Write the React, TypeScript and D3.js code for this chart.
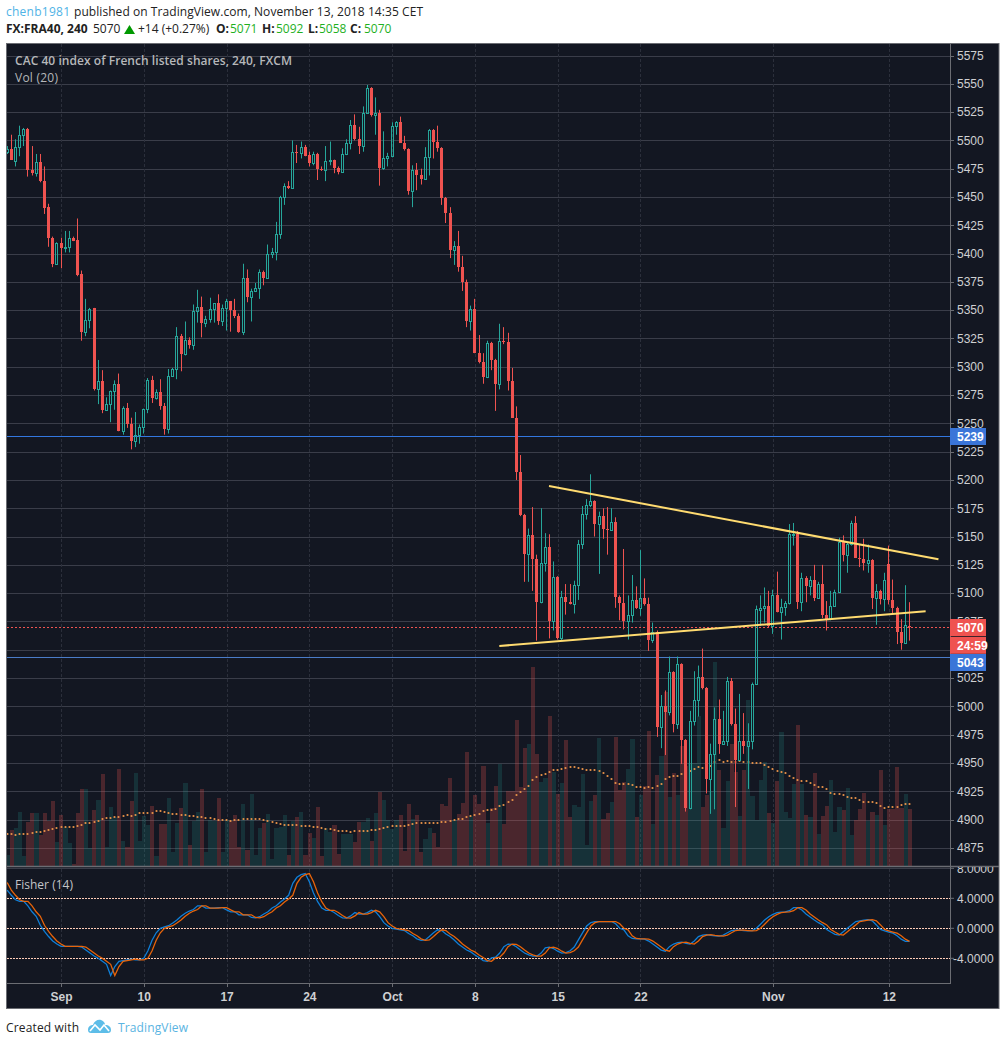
import * as d3 from "d3";

// bar rows: open, high, low, close (FX:FRA40, 240 minutes)
const candles: [number, number, number, number][] = [
  [5490,5495,5488,5492],[5492,5505,5483,5483],[5482,5501,5477,5494],[5494,5513,5486,5505],[5505,5511,5495,5510],
  [5510,5511,5468,5474],[5474,5495,5469,5471],[5471,5488,5468,5481],[5481,5488,5463,5464],[5464,5477,5435,5440],
  [5441,5444,5406,5414],[5414,5415,5388,5391],[5391,5410,5390,5409],[5409,5414,5387,5405],[5405,5420,5401,5406],
  [5406,5420,5401,5414],[5414,5415,5411,5411],[5412,5431,5380,5381],[5382,5385,5323,5331],[5331,5360,5327,5341],
  [5341,5352,5334,5351],[5352,5352,5279,5280],[5280,5306,5267,5287],[5287,5297,5259,5262],[5262,5273,5261,5267],
  [5267,5279,5251,5279],[5279,5288,5262,5285],[5285,5294,5243,5243],[5243,5265,5240,5264],[5264,5268,5246,5249],
  [5249,5255,5227,5234],[5234,5260,5229,5240],[5240,5249,5232,5247],[5247,5263,5241,5263],[5263,5290,5259,5288],
  [5288,5292,5268,5272],[5272,5280,5271,5278],[5278,5289,5262,5265],[5265,5268,5240,5245],[5245,5298,5241,5292],
  [5292,5299,5291,5298],[5298,5335,5289,5327],[5327,5329,5296,5311],[5311,5340,5310,5324],[5324,5326,5316,5319],
  [5319,5355,5315,5349],[5349,5368,5339,5353],[5353,5362,5326,5339],[5339,5345,5335,5342],[5342,5361,5339,5351],
  [5351,5356,5339,5356],[5356,5364,5337,5340],[5340,5355,5336,5352],[5352,5360,5332,5358],[5358,5358,5331,5350],
  [5350,5360,5343,5345],[5345,5347,5330,5331],[5331,5391,5328,5378],[5378,5386,5357,5362],[5362,5369,5340,5367],
  [5367,5374,5366,5370],[5370,5386,5360,5384],[5384,5385,5372,5378],[5378,5408,5378,5400],[5400,5405,5396,5401],
  [5401,5428,5394,5417],[5417,5451,5413,5450],[5450,5462,5443,5460],[5460,5464,5457,5458],[5458,5500,5458,5490],
  [5490,5496,5480,5489],[5489,5499,5484,5494],[5494,5496,5486,5486],[5487,5490,5477,5480],[5480,5490,5478,5488],
  [5488,5489,5465,5475],[5475,5477,5473,5474],[5474,5495,5464,5482],[5482,5499,5478,5483],[5483,5483,5471,5476],
  [5476,5477,5470,5472],[5472,5493,5472,5488],[5488,5501,5487,5498],[5498,5518,5492,5514],[5514,5523,5500,5501],
  [5501,5512,5488,5495],[5495,5530,5490,5524],[5524,5549,5524,5546],[5546,5547,5521,5522],[5522,5538,5505,5524],
  [5524,5527,5460,5476],[5476,5508,5474,5484],[5484,5489,5477,5486],[5486,5516,5485,5513],[5513,5517,5505,5516],
  [5516,5521,5498,5498],[5498,5504,5491,5492],[5492,5493,5452,5455],[5455,5478,5441,5474],[5474,5480,5456,5469],
  [5469,5475,5461,5466],[5466,5494,5466,5485],[5485,5510,5469,5509],[5509,5510,5484,5499],[5499,5513,5490,5493],
  [5493,5494,5443,5449],[5449,5450,5427,5436],[5436,5441,5396,5403],[5403,5411,5390,5407],[5407,5420,5384,5388],
  [5388,5398,5367,5375],[5375,5377,5335,5340],[5340,5354,5332,5351],[5351,5360,5312,5312],[5312,5328,5303,5304],
  [5304,5312,5285,5291],[5291,5323,5290,5321],[5321,5322,5297,5306],[5306,5307,5261,5285],[5285,5338,5280,5323],
  [5323,5335,5320,5322],[5322,5330,5279,5287],[5287,5299,5255,5255],[5255,5265,5200,5207],[5207,5222,5168,5169],
  [5169,5170,5110,5135],[5135,5157,5110,5151],[5151,5176,5102,5130],[5130,5134,5058,5092],[5092,5175,5091,5127],
  [5127,5153,5119,5141],[5141,5152,5060,5075],[5075,5128,5067,5114],[5114,5115,5059,5060],[5060,5102,5058,5097],
  [5097,5108,5081,5092],[5092,5108,5090,5090],[5090,5111,5082,5107],[5107,5147,5094,5143],[5143,5177,5139,5170],
  [5170,5183,5165,5178],[5178,5205,5176,5181],[5181,5182,5150,5161],[5161,5172,5117,5168],[5168,5175,5148,5157],
  [5157,5176,5134,5156],[5156,5175,5155,5163],[5163,5167,5087,5097],[5097,5098,5076,5091],[5091,5139,5068,5075],
  [5075,5098,5059,5081],[5081,5116,5074,5094],[5094,5106,5086,5087],[5087,5138,5080,5096],[5096,5113,5089,5090],
  [5090,5096,5049,5059],[5059,5074,5056,5066],[5066,5067,4973,4982],[4982,5010,4963,5000],[5000,5014,4957,4995],
  [4995,5044,4992,5030],[5030,5031,4977,4984],[4984,5044,4980,5037],[5037,5038,4949,4970],[4970,4971,4907,4910],
  [4910,4996,4909,4987],[4987,5031,4983,5006],[5006,5036,4991,5026],[5026,5051,5015,5016],[5016,5017,4923,4936],
  [4936,4967,4905,4958],[4958,4999,4909,4989],[4989,5006,4958,4967],[4967,4996,4966,4969],[4969,5026,4965,5022],
  [5022,5025,4983,4984],[4984,4998,4911,4953],[4953,5011,4952,4969],[4969,4994,4958,4965],[4965,4985,4927,4969],
  [4969,5021,4962,5020],[5020,5089,5019,5086],[5085,5098,5071,5087],[5087,5105,5074,5089],[5089,5102,5070,5071],
  [5071,5103,5064,5098],[5098,5119,5083,5083],[5083,5095,5059,5088],[5088,5093,5080,5091],[5091,5161,5090,5152],
  [5151,5162,5142,5152],[5152,5155,5086,5092],[5092,5118,5084,5113],[5113,5115,5092,5106],[5106,5115,5098,5112],
  [5112,5125,5093,5096],[5096,5110,5095,5108],[5108,5125,5078,5081],[5081,5093,5067,5077],[5077,5102,5076,5089],
  [5089,5103,5088,5101],[5101,5149,5100,5145],[5145,5151,5128,5134],[5134,5145,5118,5143],[5143,5164,5142,5162],
  [5162,5168,5131,5131],[5131,5143,5123,5130],[5130,5148,5120,5127],[5127,5143,5118,5129],[5129,5130,5086,5096],
  [5096,5108,5072,5102],[5102,5103,5090,5095],[5095,5118,5084,5112],[5126,5142,5090,5094],[5094,5112,5082,5087],
  [5087,5088,5055,5066],[5066,5077,5050,5056],[5056,5107,5055,5072],[5071,5092,5058,5070],
];

const volumes = [
  11,36,38,54,10,44,53,53,31,53,45,65,24,51,39,23,2,53,77,77,
  18,56,66,92,19,59,49,97,25,19,65,93,25,50,41,60,10,42,42,68,
  14,43,58,83,21,45,54,77,14,46,45,68,14,46,45,51,19,62,16,72,
  11,38,43,52,7,38,39,51,11,45,49,54,11,33,28,59,10,38,34,41,
  12,32,32,32,24,44,44,48,25,53,74,66,46,37,46,51,15,62,47,51,
  14,27,38,33,19,62,60,88,46,52,63,114,50,71,62,100,43,58,80,102,
  42,75,75,146,79,118,122,199,112,84,88,150,94,72,83,126,49,61,59,92,
  21,65,71,128,47,53,64,129,76,84,97,127,49,71,80,135,42,91,110,174,
  69,93,71,120,100,103,103,150,59,71,75,204,96,38,85,122,94,50,96,166,
  70,46,86,104,53,43,85,134,54,48,82,141,82,51,49,93,32,50,60,86,
  34,59,56,78,31,46,57,73,45,54,51,96,41,57,57,99,58,72,57,
];

const volumeMa = [
  32,32,31,32,32,32,33,34,34,35,36,37,38,39,39,39,39,40,41,43,
  43,44,45,47,48,48,49,49,50,51,50,51,53,53,53,53,55,55,54,53,
  52,52,51,51,50,50,49,49,48,48,47,46,46,46,45,46,46,47,47,47,
  47,47,46,45,44,43,42,41,41,41,41,40,40,40,39,39,38,37,37,36,
  35,35,35,34,35,35,35,35,36,36,37,38,39,40,40,40,40,41,42,43,
  43,43,43,43,43,44,44,45,46,47,47,49,50,51,52,55,56,56,57,60,
  61,64,66,71,74,77,80,86,89,91,92,94,96,96,97,98,99,99,98,97,
  96,96,96,95,93,90,87,83,82,82,82,81,79,79,78,79,78,80,82,87,
  89,90,90,92,93,95,97,99,98,99,100,104,106,104,105,104,104,105,104,104,
  103,103,103,101,99,97,95,94,93,90,88,86,85,85,83,81,79,79,77,73,
  72,72,71,69,68,68,66,64,64,64,63,60,58,59,59,59,61,62,62,
];

const fisher = [
  5.1,4.4,3.8,3.6,3.6,3.0,2.2,1.6,0.4,-0.4,-1.1,-1.7,-2.1,-2.4,-2.4,-2.4,-2.4,-2.4,-2.5,-2.9,
  -3.3,-3.7,-4.0,-4.4,-4.8,-6.3,-5.1,-4.4,-4.3,-4.2,-4.1,-4.2,-4.2,-4.0,-3.0,-1.6,-0.6,0,0.2,0.35,
  0.7,1.1,1.6,2.0,2.3,2.5,3.0,3.0,2.7,2.7,2.7,2.75,2.75,2.45,2.2,2.2,1.8,1.8,1.8,1.45,
  1.4,1.55,1.9,2.2,2.7,3.0,3.5,3.9,4.4,6.0,6.8,7.15,7.3,6.2,4.7,3.55,2.7,2.4,2.4,2.1,
  1.7,1.4,1.35,1.65,2.1,1.9,1.9,2.1,2.4,2.2,1.55,0.75,0.3,0,-0.1,-0.2,-0.3,-0.7,-1.0,-1.4,
  -1.6,-1.55,-1.1,-0.6,-0.2,-0.3,-0.75,-1.1,-1.55,-2.1,-2.5,-2.9,-3.15,-3.55,-3.9,-4.3,-4.4,-3.95,-3.85,-3.3,
  -2.45,-2.1,-2.15,-2.45,-2.9,-3.3,-3.55,-3.7,-3.7,-3.3,-2.6,-2.5,-2.7,-3.05,-3.3,-3.25,-3.0,-2.5,-1.55,-0.6,
  0.3,0.75,0.9,0.9,0.9,0.9,0.9,0.6,0,-0.2,-1.0,-1.35,-1.4,-1.4,-1.45,-1.7,-2.1,-2.5,-2.9,-3.05,
  -2.45,-2.1,-1.9,-1.85,-2.0,-2.1,-1.7,-1.1,-0.9,-0.85,-0.95,-1.0,-1.05,-0.9,-0.6,-0.3,-0.25,-0.25,-0.3,-0.35,
  -0.3,0,0.55,1.1,1.55,1.85,2.1,2.15,2.2,2.35,2.75,2.75,2.45,1.9,1.5,1.1,0.75,0.45,-0.15,-0.5,
  -0.8,-0.9,-0.45,0,0.45,0.9,1.0,1.1,1.15,1.0,0.45,-0.15,-0.35,-0.5,-0.65,-1.0,-1.45,-1.75,-1.75,
];

const fisherTrigger = [
  6.1,5.1,4.4,3.8,3.6,3.6,3.0,2.2,1.6,0.4,-0.4,-1.1,-1.7,-2.1,-2.4,-2.4,-2.4,-2.4,-2.4,-2.5,
  -2.9,-3.3,-3.7,-4.0,-4.4,-4.8,-6.3,-5.1,-4.4,-4.3,-4.2,-4.1,-4.2,-4.2,-4.0,-3.0,-1.6,-0.6,0,0.2,
  0.35,0.7,1.1,1.6,2.0,2.3,2.5,3.0,3.0,2.7,2.7,2.7,2.75,2.75,2.45,2.2,2.2,1.8,1.8,1.8,
  1.45,1.4,1.55,1.9,2.2,2.7,3.0,3.5,3.9,4.4,6.0,6.8,7.15,7.3,6.2,4.7,3.55,2.7,2.4,2.4,
  2.1,1.7,1.4,1.35,1.65,2.1,1.9,1.9,2.1,2.4,2.2,1.55,0.75,0.3,0,-0.1,-0.2,-0.3,-0.7,-1.0,
  -1.4,-1.6,-1.55,-1.1,-0.6,-0.2,-0.3,-0.75,-1.1,-1.55,-2.1,-2.5,-2.9,-3.15,-3.55,-3.9,-4.3,-4.4,-3.95,-3.85,
  -3.3,-2.45,-2.1,-2.15,-2.45,-2.9,-3.3,-3.55,-3.7,-3.7,-3.3,-2.6,-2.5,-2.7,-3.05,-3.3,-3.25,-3.0,-2.5,-1.55,
  -0.6,0.3,0.75,0.9,0.9,0.9,0.9,0.9,0.6,0,-0.2,-1.0,-1.35,-1.4,-1.4,-1.45,-1.7,-2.1,-2.5,-2.9,
  -3.05,-2.45,-2.1,-1.9,-1.85,-2.0,-2.1,-1.7,-1.1,-0.9,-0.85,-0.95,-1.0,-1.05,-0.9,-0.6,-0.3,-0.25,-0.25,-0.3,
  -0.35,-0.3,0,0.55,1.1,1.55,1.85,2.1,2.15,2.2,2.35,2.75,2.75,2.45,1.9,1.5,1.1,0.75,0.45,-0.15,
  -0.5,-0.8,-0.9,-0.45,0,0.45,0.9,1.0,1.1,1.15,1.0,0.45,-0.15,-0.35,-0.5,-0.65,-1.0,-1.45,-1.75,
];

const priceTicks = d3.range(4875, 5576, 25);
const hiddenPriceLabels = [5050]; // sits fully behind the countdown tag
const fisherTicks = [8, 4, 0, -4];
const fisherBands = [4, 0, -4];
const timeLabels = ["Sep", "10", "17", "24", "Oct", "8", "15", "22", "Nov", "12"];
const timeBars = [13, 33, 53, 73, 93, 113, 133, 153, 185, 213];

// bar index and price of each end of the two drawn trend lines
const trendLines: [number, number, number, number][] = [
  [130.9, 5194.6, 225, 5129.9],
  [118.9, 5053.3, 221.9, 5083.9],
];

const lastClose = 5070;
const hLine1 = 5239;
const hLine2 = 5043;

const BG = "#131722";
const UP = "#26a69a";
const DOWN = "#ef5350";
const BORDER = "#6b6d73";
const AXIS_TEXT = "#cfd0d2";
const UI_FONT = "'Open Sans', 'Noto Sans', sans-serif";
const AXIS_FONT = "'Liberation Sans', Arial, sans-serif";

const x = d3.scaleLinear().domain([0, candles.length - 1]).range([7.2, 909.5]);
const y = d3.scaleLinear().domain([4875, 5575]).range([847.8, 55.5]);
const yVol = d3.scaleLinear().domain([0, 200]).range([866, 666]);
const yFisher = d3.scaleLinear().domain([-4, 4]).range([958.3, 898.3]);

const barX = (i: number) => Math.floor(x(i)) + 0.5;
const snap = (v: number) => Math.round(v);
const levelY = (p: number) => Math.round(y(p) - 0.3) + 0.5;
const volLeft = (i: number) => Math.round(x(i) - (x(1) - x(0)) / 2 + 0.3);

const fisherLine = d3
  .line<number>()
  .x((_, i) => x(i))
  .y((d) => yFisher(d));

const Candle = ({ i }: { i: number }) => {
  const [o, h, l, c] = candles[i];
  const cx = barX(i);
  const top = snap(y(Math.max(o, c)));
  const bottom = snap(y(Math.min(o, c)));
  const up = c >= o;
  const color = up ? UP : DOWN;
  return (
    <g>
      <line x1={cx} x2={cx} y1={y(h)} y2={top} stroke={color} />
      <line x1={cx} x2={cx} y1={bottom} y2={y(l)} stroke={color} />
      {up ? (
        <rect x={cx - 1} y={top + 0.5} width={2} height={Math.max(bottom - top, 1)} fill="none" stroke={color} />
      ) : (
        <rect x={cx - 1.5} y={top} width={3} height={Math.max(bottom - top, 1)} fill={color} />
      )}
    </g>
  );
};

const PriceTag = ({ cy, text, fill }: { cy: number; text: string; fill: string }) => (
  <g>
    <rect x={950} y={cy - 8.5} width={36} height={17} fill={fill} />
    <text x={957} y={cy + 4.3} fill="#fff" fontFamily={AXIS_FONT} fontSize={12} fontWeight={700}>
      {text}
    </text>
  </g>
);

export default function App() {
  return (
    <svg width={1006} height={1045} style={{ position: "absolute", left: 0, top: 0, background: "#fff" }}>
      <defs>
        <clipPath id="mainPane">
          <rect x={7} y={44} width={943} height={822} />
        </clipPath>
        <clipPath id="fisherPane">
          <rect x={7} y={867} width={992} height={116} />
        </clipPath>
      </defs>

      {/* header */}
      <text x={6} y={16} fontFamily={UI_FONT} fontSize={12} fill="#4fb3e6" textLength={64}>chenb1981</text>
      <text x={74} y={16} fontFamily={UI_FONT} fontSize={12} fill="#222" textLength={349}>
        published on TradingView.com, November 13, 2018 14:35 CET
      </text>
      <g fontFamily={UI_FONT} fontSize={12} fill="#222">
        <text x={6} y={33} fontWeight={700}>FX:FRA40, 240</text>
        <text x={93} y={33}>{lastClose}</text>
        <path d="M124,34L135,34L129.5,25Z" fill="#009900" />
        <text x={138} y={33}>+14 (+0.27%)</text>
        {[
          ["O:", 216, "5071", 230],
          ["H:", 262, "5092", 276],
          ["L:", 308, "5058", 319],
          ["C:", 350, "5070", 364],
        ].map(([k, kx, v, vx]) => (
          <g key={k as string}>
            <text x={kx as number} y={33} fontWeight={700}>{k}</text>
            <text x={vx as number} y={33} fill="#1fb01f">{v}</text>
          </g>
        ))}
      </g>

      {/* frame */}
      <rect x={6.5} y={43.5} width={992.5} height={965} fill={BG} stroke={BORDER} />

      {/* grid */}
      {priceTicks.map((p) => (
        <line key={p} x1={7} x2={950} y1={snap(y(p)) + 0.5} y2={snap(y(p)) + 0.5} stroke="#3a3d49" />
      ))}
      {timeBars.map((b) => (
        <line
          key={b}
          x1={Math.round(x(b)) + 0.5}
          x2={Math.round(x(b)) + 0.5}
          y1={44}
          y2={983}
          stroke="#2b2f3b"
          strokeDasharray="3 2"
        />
      ))}

      <g clipPath="url(#mainPane)">
        {/* volume */}
        {volumes.map((v, i) => (
          <rect
            key={i}
            x={volLeft(i)}
            y={snap(yVol(v))}
            width={i + 1 < volumes.length ? volLeft(i + 1) - volLeft(i) : 4}
            height={yVol(0) - snap(yVol(v))}
            fill={candles[i][3] >= candles[i][0] ? UP : DOWN}
            fillOpacity={candles[i][3] >= candles[i][0] ? 0.19 : 0.25}
          />
        ))}
        {volumeMa.map((v, i) => (
          <circle key={i} cx={barX(i)} cy={yVol(v)} r={1.1} fill="#e8934a" />
        ))}

        {/* horizontal levels */}
        <line x1={7} x2={950} y1={levelY(hLine1)} y2={levelY(hLine1)} stroke="#3377e0" />
        <line x1={7} x2={950} y1={levelY(hLine2)} y2={levelY(hLine2)} stroke="#4a7cc8" />
        <line x1={7} x2={950} y1={levelY(lastClose)} y2={levelY(lastClose)} stroke={DOWN} strokeDasharray="2 2" />

        {candles.map((_, i) => (
          <Candle key={i} i={i} />
        ))}

        {trendLines.map(([b1, p1, b2, p2], i) => (
          <line key={i} x1={x(b1)} y1={y(p1)} x2={x(b2)} y2={y(p2)} stroke="#ffdb70" strokeWidth={2} />
        ))}

        <text x={15} y={65} fill="#b6b7ba" fontFamily={UI_FONT} fontSize={12} fontWeight={600} textLength={277}>
          CAC 40 index of French listed shares, 240, FXCM
        </text>
        <text x={15} y={82} fill="#b6b7ba" fontFamily={UI_FONT} fontSize={12} textLength={43}>
          Vol (20)
        </text>
      </g>

      {/* pane separators and axis lines */}
      <line x1={7} x2={999} y1={866.5} y2={866.5} stroke={BORDER} strokeWidth={1.5} />
      <line x1={7} x2={950} y1={868.5} y2={868.5} stroke="#3a3d49" />
      <line x1={950.5} x2={950.5} y1={44} y2={983} stroke={BORDER} />
      <line x1={7} x2={951} y1={983.5} y2={983.5} stroke={BORDER} />

      {/* fisher pane */}
      {fisherBands.map((v) => (
        <line
          key={v}
          x1={7}
          x2={950}
          y1={Math.floor(yFisher(v)) + 0.5}
          y2={Math.floor(yFisher(v)) + 0.5}
          stroke="#ffcdb8"
          strokeDasharray="2 1"
        />
      ))}
      <path d={fisherLine(fisher) ?? ""} fill="none" stroke="#0f7fd8" strokeWidth={1.3} />
      <path d={fisherLine(fisherTrigger) ?? ""} fill="none" stroke="#e8640a" strokeWidth={1.3} />
      <text x={15} y={889} fill="#c4c5c8" fontFamily={UI_FONT} fontSize={12} textLength={58}>
        Fisher (14)
      </text>

      {/* price axis */}
      <g fontFamily={AXIS_FONT} fontSize={12} fill={AXIS_TEXT}>
        {priceTicks.map((p) => (
          <g key={p}>
            <line x1={950} x2={954} y1={snap(y(p)) + 0.5} y2={snap(y(p)) + 0.5} stroke={BORDER} />
            {!hiddenPriceLabels.includes(p) && <text x={957} y={y(p) + 4.3}>{p}</text>}
          </g>
        ))}
        <g clipPath="url(#fisherPane)">
          {fisherTicks.map((v) => (
            <g key={v}>
              <line x1={950} x2={954} y1={yFisher(v)} y2={yFisher(v)} stroke={BORDER} />
              <text x={v < 0 ? 953 : 957} y={yFisher(v) + 4.3}>{v.toFixed(4)}</text>
            </g>
          ))}
        </g>
        {timeBars.map((b, i) => (
          <g key={b}>
            <line x1={Math.round(x(b)) + 0.5} x2={Math.round(x(b)) + 0.5} y1={983} y2={987} stroke={BORDER} />
            <text x={x(b) + 0.5} y={1001} textAnchor="middle" fontWeight={700}>{timeLabels[i]}</text>
          </g>
        ))}
      </g>

      <PriceTag cy={levelY(hLine1)} text={String(hLine1)} fill="#3a75d8" />
      <PriceTag cy={levelY(lastClose)} text={String(lastClose)} fill={DOWN} />
      <PriceTag cy={645.3} text="24:59" fill={DOWN} />
      <PriceTag cy={662.5} text={String(hLine2)} fill="#3a75d8" />

      {/* footer */}
      <text x={6} y={1032} fill="#222" fontFamily={UI_FONT} fontSize={12} textLength={73}>Created with</text>
      <path
        d="M88,1030C88,1026 91,1025 93,1025C94,1021 98,1019 101,1020C104,1021 105,1023 105,1025C109,1025 111,1027 111,1030C111,1032 110,1033 108,1033L91,1033C89,1033 88,1032 88,1030Z"
        fill="#5dbde8"
      />
      <path d="M90,1031L95,1025L100,1030L104,1025L109,1031" fill="none" stroke="#fff" strokeWidth={1.6} />
      <text x={118} y={1032} fill="#5ab4e2" fontFamily={UI_FONT} fontSize={12} textLength={70}>TradingView</text>
    </svg>
  );
}
